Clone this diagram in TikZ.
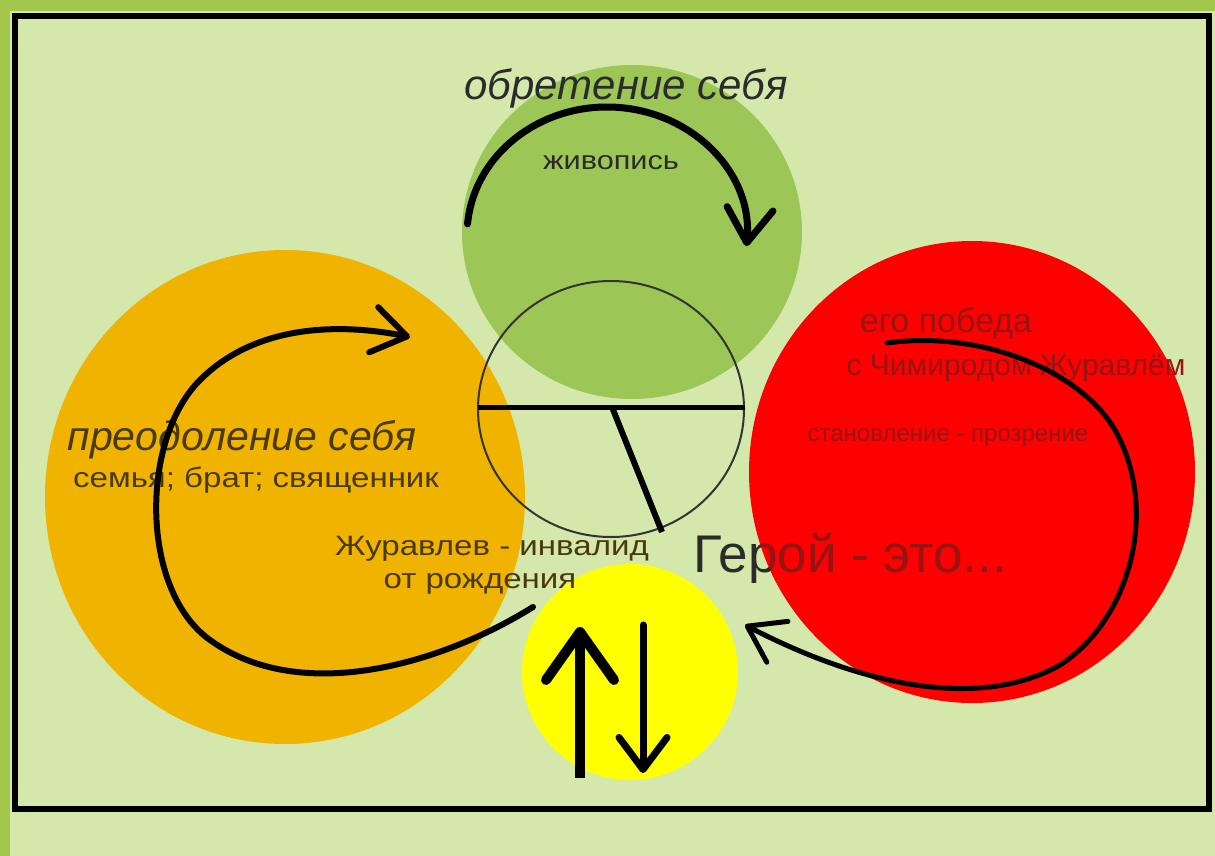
\documentclass[tikz,border=0pt]{standalone}
\usepackage{fontspec}
\setmainfont{Liberation Sans}
\newfontfamily\widefont[FakeStretch=1.18]{Liberation Sans}
\usetikzlibrary{arrows.meta}
\definecolor{pale}{HTML}{D3E8AA}
\definecolor{olive}{HTML}{A3C64C}
\definecolor{leaf}{HTML}{9CC656}
\definecolor{amber}{HTML}{F0B400}
\definecolor{hot}{HTML}{FF0000}
\definecolor{lemon}{HTML}{FFFF00}
\definecolor{ink}{HTML}{2B2B2B}
\definecolor{brownink}{HTML}{4A3A0A}
\definecolor{redink}{HTML}{961414}
\tikzset{
  lbl/.style={inner sep=0pt},
}

\begin{document}
\begin{tikzpicture}[
    x=0.5pt, y=-0.5pt,
    fnt/.style={font=\fontsize{#1}{#1}\selectfont},
    wide/.style={font=\fontsize{#1}{#1}\selectfont\widefont},
    turn/.style={line width=#1, line cap=round,
      -{Straight Barb[round, length=17pt, width=23pt]}},
    cut/.style={line width=#1}
  ]
  \useasboundingbox (0,0) rectangle (1215,856);
  \fill[pale] (0,0) rectangle (1215,856);
  \fill[olive] (0,0) rectangle (1215,11);
  \fill[olive] (0,0) rectangle (10,856);

  \fill[amber] (285,497) ellipse [x radius=240, y radius=247];
  \fill[leaf] (632,232) ellipse [x radius=170, y radius=167];
  \fill[lemon] (630,672) circle [radius=108];

  \node[lbl, fnt=26.5, text=ink, anchor=west] (hero) at (693,558) {Герой - это...};
  \fill[hot] (972,472) ellipse [x radius=223, y radius=231];
  \begin{scope}
    \clip (972,472) ellipse [x radius=223, y radius=231];
    \node[lbl, fnt=26.5, text=redink, anchor=west] (heroRed) at (693,558) {Герой - это...};
  \end{scope}

  \node[lbl, fnt=21, text=ink] (find) at (626,88) {\itshape обретение себя};
  \node[lbl, wide=13, text=ink] (paint) at (611,163) {живопись};
  \node[lbl, fnt=20.5, text=brownink] (beat) at (242,440) {\itshape преодоление себя};
  \node[lbl, wide=14, text=brownink] (kin) at (256,480) {семья; брат; священник};
  \node[lbl, wide=14, text=brownink] (crane) at (492,549) {Журавлев - инвалид};
  \node[lbl, wide=14, text=brownink] (birth) at (480,584) {от рождения};
  \node[lbl, fnt=17, text=redink] (winA) at (946,323) {его победа};
  \node[lbl, fnt=15, text=redink] (winB) at (1016,368) {с Чимиродом Журавлём};
  \node[lbl, fnt=12, text=redink] (winC) at (948,438) {становление - прозрение};

  \draw[line width=1pt, black!80] (611,409) ellipse [x radius=133, y radius=128];
  \draw[cut=2.5pt] (478,407) -- (745,407);
  \draw[cut=3pt] (612,407) -- (662,532);

  \draw[turn=3.5pt] (607,235) ++(185:140 and 128) arc [start angle=185, end angle=365, x radius=140, y radius=128];
  \draw[turn=3pt] (533,607) .. controls (440,665) and (300,705) .. (210,640)
    .. controls (140,590) and (140,440) .. (200,380)
    .. controls (260,320) and (350,325) .. (410,337);
  \draw[turn=2.5pt] (887,343) .. controls (980,330) and (1080,370) .. (1115,430)
    .. controls (1160,510) and (1130,620) .. (1060,665)
    .. controls (990,705) and (880,695) .. (745,625);
  \draw[line width=5pt, -{Straight Barb[round, length=24pt, width=34pt]}] (580,778) -- (580,627);
  \draw[line width=3.5pt, line cap=round, -{Straight Barb[round, length=16pt, width=24pt]}] (643,625) -- (643,773);

  \draw[line width=3pt] (15,16) rectangle (1209,809);
\end{tikzpicture}
\end{document}
